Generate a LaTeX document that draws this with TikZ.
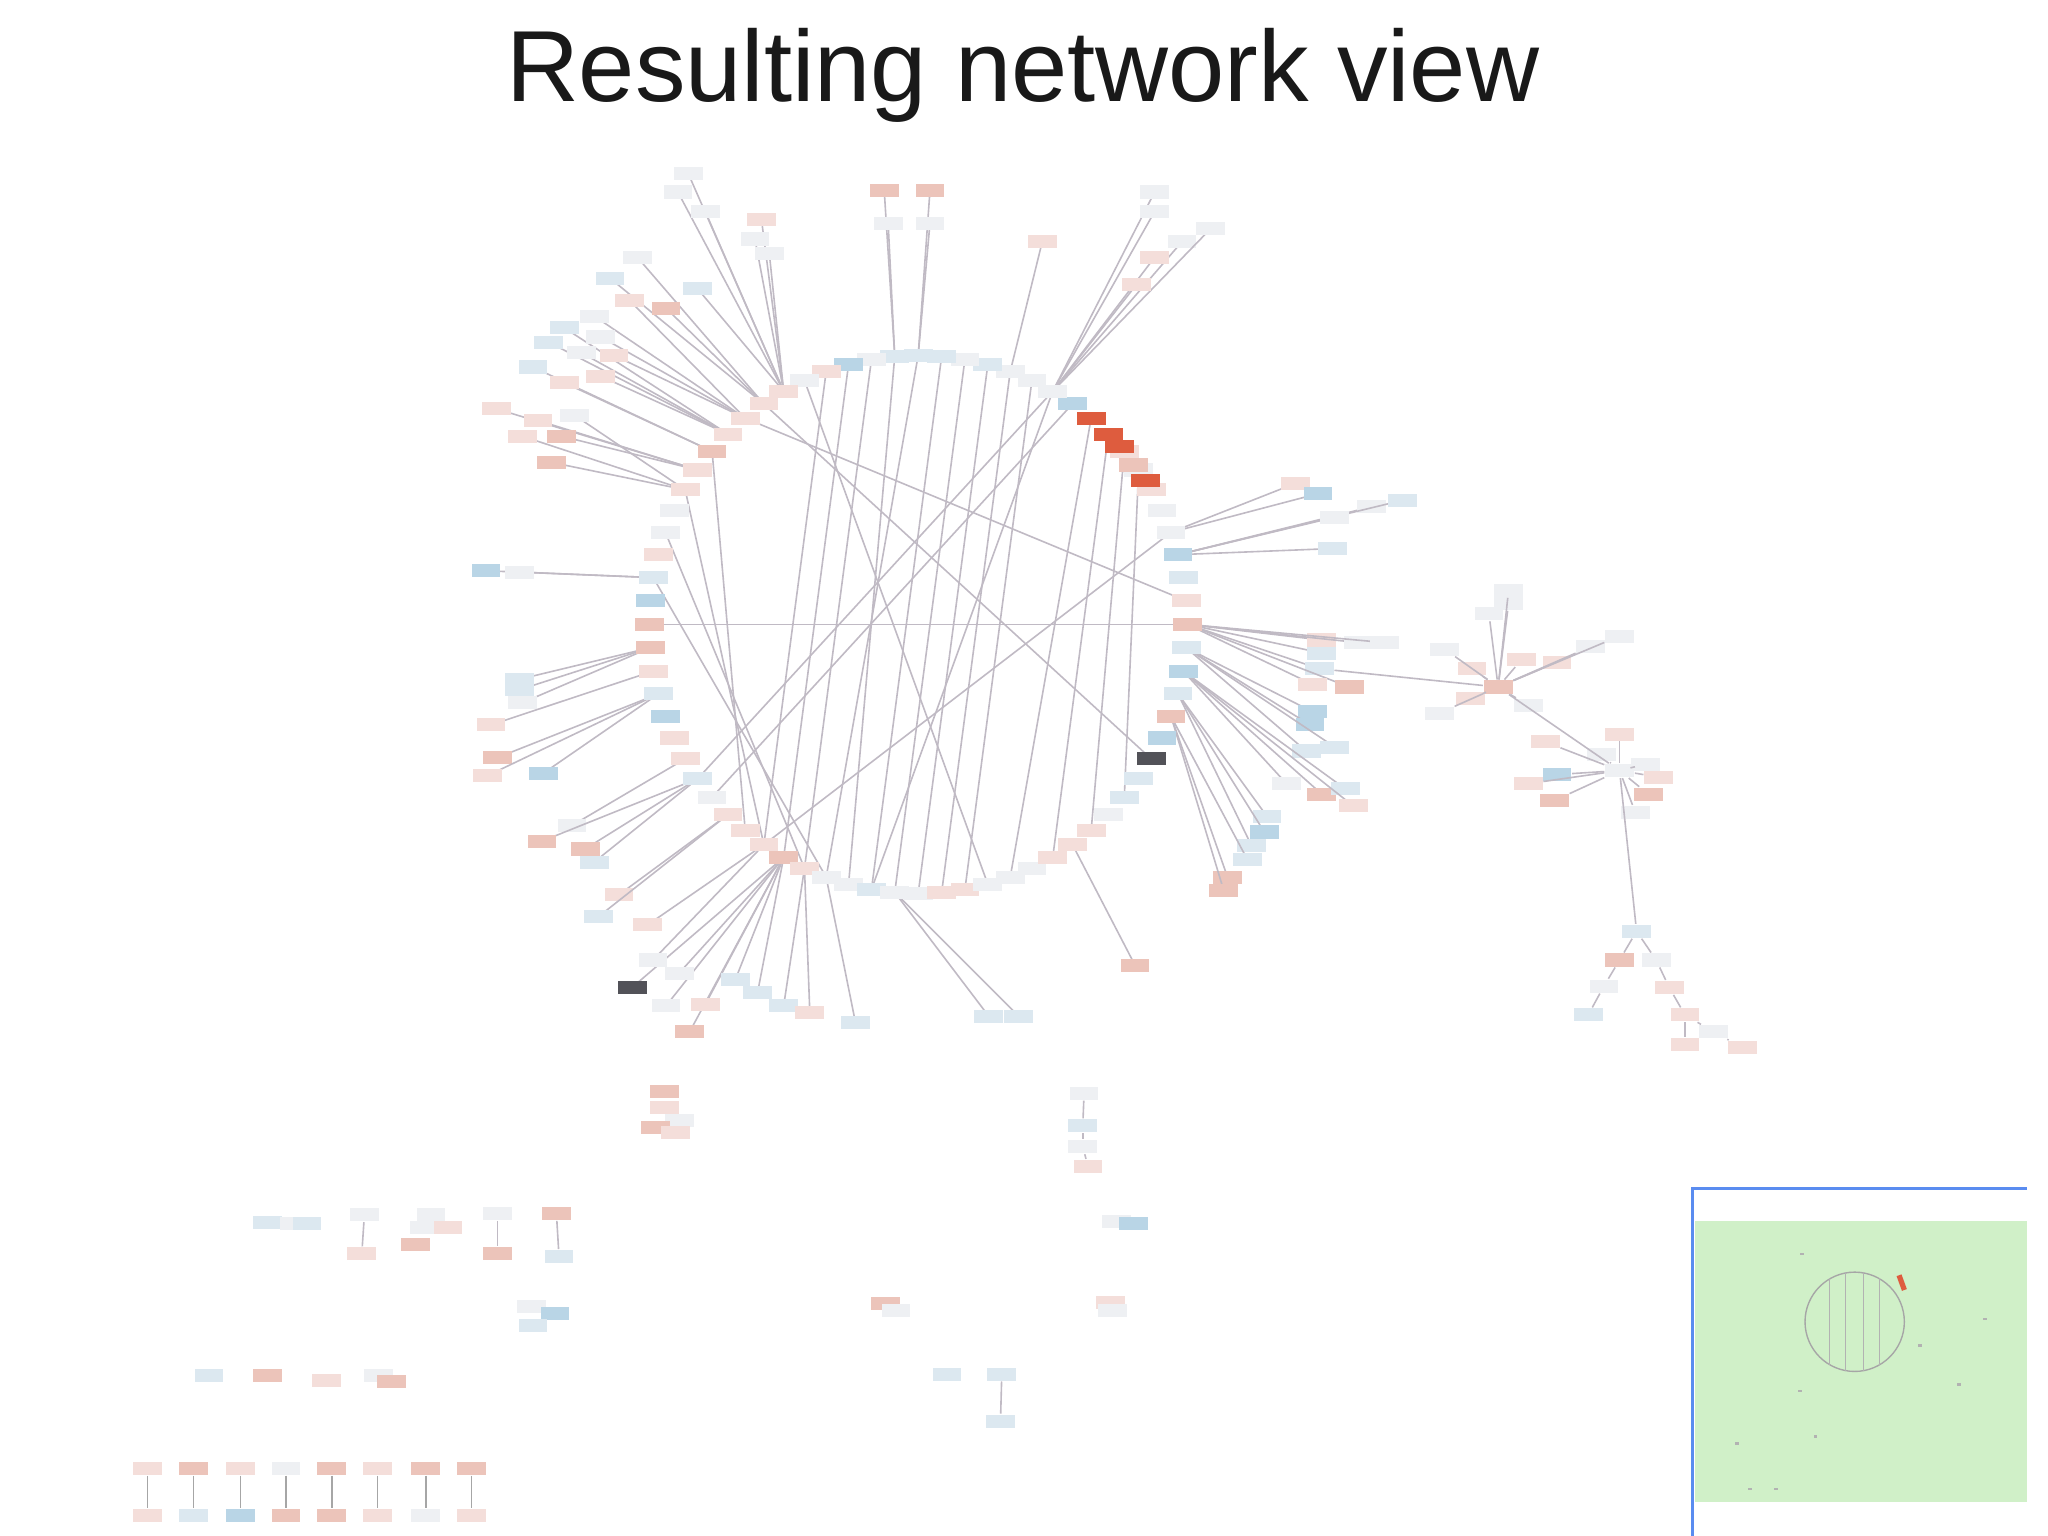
\documentclass[tikz,border=0pt]{standalone}
\usepackage{fontspec}
\setmainfont{Liberation Sans}
\usetikzlibrary{shapes.geometric}
\definecolor{cP}{RGB}{236,196,186}
\definecolor{cp}{RGB}{244,222,218}
\definecolor{cB}{RGB}{185,213,230}
\definecolor{cb}{RGB}{220,232,240}
\definecolor{cw}{RGB}{238,240,243}
\definecolor{cR}{RGB}{222,92,62}
\definecolor{cK}{RGB}{82,82,88}
\definecolor{eg}{RGB}{192,186,196}
\tikzset{
 nd/.style={fill=c#1,draw=none,inner sep=0pt,minimum width=0.22cm,minimum height=0.1cm},
 nde/.style={fill=c#1,draw=none,ellipse,inner sep=0pt,minimum width=0.22cm,minimum height=0.11cm},
 edge/.style={draw=eg,line width=0.35pt},
}
\begin{document}
\begin{tikzpicture}[x=0.01cm,y=-0.01cm]
\useasboundingbox (0,0) rectangle (1568,1176);
\node[font=\fontsize{22}{26}\selectfont,text=black!90] (title) at (783,58) {Resulting network view};
\foreach \a/\c in {0/P,5/p,10/b,15/B,20/w,25/w,30/p,35/w,40/p,45/R,50/R,55/B,60/w,65/w,70/w,75/b,80/w,85/b,90/b,95/b,100/w,105/B,110/p,115/w,120/p,125/p,130/p,135/p,140/P,145/p,150/p,155/w,160/w,165/p,170/b,175/B,180/P,185/P,190/p,195/b,200/B,205/p,210/p,215/b,220/w,225/p,230/p,235/p,240/P,245/p,250/w,255/w,260/b,265/w,270/w,275/p,280/p,285/w,290/w,295/w,300/p,305/p,310/p,315/w,320/b,325/b,330/K,335/B,340/P,345/b,350/B,355/b}
  \coordinate (c\a) at ({703+206*cos(\a)},{478-206*sin(\a)});
\foreach \a/\b in {95/255,90/250,100/245,85/260,80/265,75/270,105/240,110/235,70/275,65/280,60/215,55/220,50/290,45/300,40/310,35/320,130/5,125/330,150/235,160/245,170/250,140/230,0/180,20/235,115/285,60/260}
  \draw[edge] (c\a) -- (c\b);
\foreach \x/\y/\c/\s/\t [count=\i] in {
527/133/w/e/120,519/147/w/e/120,540/162/w/e/120,583/168/p/r/120,578/183/w/e/120,589/194/w/e/120,488/197/w/r/125,467/213/b/r/125,534/221/b/r/120,510/236/P/r/125,482/230/p/r/130,455/242/w/r/130,432/251/b/r/135,460/258/w/e/130,420/262/b/r/135,445/270/w/r/135,470/272/p/r/130,408/281/b/r/140,432/293/p/r/140,460/288/p/r/135,380/313/p/r/145,412/322/p/r/145,430/334/P/r/145,400/334/p/r/150,422/354/P/r/150,440/318/w/e/150,
677/146/P/r/95,712/146/P/r/90,680/171/w/e/95,712/171/w/e/90,798/185/p/r/70,884/147/w/e/60,884/162/w/e/60,905/185/w/e/60,927/175/w/e/60,884/197/p/r/60,870/218/p/r/60,
992/370/p/r/20,1009/378/B/r/20,1050/388/w/e/15,1074/383/b/r/15,1022/396/w/e/15,1020/420/b/r/15,
1012/490/p/r/0,1012/500/b/r/0,1040/492/w/e/0,1060/492/w/e/0,1010/512/b/r/0,1033/526/P/r/0,1005/524/p/r/0,1005/545/B/r/355,1003/555/B/r/355,1022/572/b/r/355,1000/575/b/r/355,1012/608/P/r/350,1030/604/b/r/350,1036/617/p/r/350,985/600/w/e/350,970/625/b/r/345,968/637/B/r/345,958/647/b/r/345,955/658/b/r/340,940/672/P/r/340,937/682/P/r/340,
372/437/B/r/170,398/438/w/r/170,398/520/b/r/185,398/528/b/r/185,400/538/w/e/185,376/555/p/r/190,381/580/P/r/195,416/592/B/r/195,373/594/p/r/195,438/632/w/r/210,415/644/P/r/215,448/650/P/r/215,455/660/b/r/215,474/685/p/r/225,458/702/b/r/225,
496/708/p/e/235,484/756/K/r/240,510/770/w/e/240,528/790/P/r/240,540/769/p/r/240,563/750/b/r/240,580/760/b/r/240,600/770/b/r/245,620/775/p/r/245,655/783/b/r/250,500/735/w/e/235,520/745/w/e/240,
757/778/b/r/265,780/778/b/r/265,869/739/P/r/305}
{
  \draw[edge] (\x,\y) -- (c\t);
  \ifx\s e \node[nde=\c] (o\i) at (\x,\y) {};\else \node[nd=\c] (o\i) at (\x,\y) {};\fi
}
\foreach \a/\c in {0/P,5/p,10/b,15/B,20/w,25/w,30/p,35/w,40/p,45/R,50/R,55/B,60/w,65/w,70/w,75/b,80/w,85/b,90/b,95/b,100/w,105/B,110/p,115/w,120/p,125/p,130/p,135/p,140/P,145/p,150/p,155/w,160/w,165/p,170/b,175/B,180/P,185/P,190/p,195/b,200/B,205/p,210/p,215/b,220/w,225/p,230/p,235/p,240/P,245/p,250/w,255/w,260/b,265/w,270/w,275/p,280/p,285/w,290/w,295/w,300/p,305/p,310/p,315/w,320/b,325/b,330/K,335/B,340/P,345/b,350/B,355/b}
  \node[nd=\c] (n\a) at (c\a) {};
\node[nd=R] (r1) at (857,342) {};
\node[nd=P] (r2) at (868,356) {};
\node[nd=R] (r3) at (877,368) {};
\foreach \n/\x/\y/\c/\s in {f1/1147/526/P/r,f2/1155/452/w/e,f3/1155/462/w/e,f4/1140/470/w/e,f5/1106/497/w/e,f6/1127/512/p/r,f7/1165/505/p/r,f8/1192/507/p/r,f9/1218/495/w/r,f10/1240/487/w/r,f11/1126/535/p/r,f12/1102/546/w/e,f13/1170/540/w/e,
g0/1240/590/w/e,g1/1240/562/p/r,g2/1226/578/w/e,g3/1183/568/p/r,g4/1192/593/B/e,g5/1190/613/P/r,g6/1170/600/p/r,g7/1260/585/w/e,g8/1270/595/p/r,g9/1252/622/w/e,g10/1262/608/P/r,
h1/1253/713/b/r,h2/1240/735/P/r,h3/1268/735/w/e,h4/1228/755/w/e,h5/1278/756/p/r,h6/1216/777/b/r,h7/1290/777/p/r,h8/1290/800/p/r,h9/1312/790/w/e,h10/1334/802/p/r}
{ \ifx\s e \node[nde=\c] (\n) at (\x,\y) {};\else \node[nd=\c] (\n) at (\x,\y) {};\fi }
\draw[edge] (f1) -- (o48);
\foreach \n in {f2,f3,f4,f5,f6,f7,f8,f9,f10,f11,f12,f13,g0} \draw[edge] (f1) -- (\n);
\foreach \n in {g1,g2,g3,g4,g5,g6,g7,g8,g9,g10} \draw[edge] (g0) -- (\n);
\draw[edge] (g0) -- (h1);
\draw[edge] (h1) -- (h2); \draw[edge] (h1) -- (h3); \draw[edge] (h2) -- (h4);
\draw[edge] (h4) -- (h6); \draw[edge] (h3) -- (h5); \draw[edge] (h5) -- (h7);
\draw[edge] (h7) -- (h8); \draw[edge] (h7) -- (h9); \draw[edge] (h9) -- (h10);
\foreach \x/\y/\c/\s [count=\i] in {509/836/P/r,509/848/p/r,520/858/w/e,502/863/P/r,517/867/p/e,
830/837/w/e,829/862/b/r,829/878/w/r,833/893/p/r,
205/936/b/r,225/937/w/r,235/937/b/r,279/930/w/e,277/960/p/r,330/930/w/e,325/940/w/e,343/940/p/r,318/953/P/r,381/929/w/e,381/960/P/r,426/929/P/r,428/962/b/r,
407/1000/w/e,425/1006/B/r,408/1015/b/r,855/935/w/e,868/937/B/r,678/998/P/r,686/1003/w/e,850/997/p/r,852/1003/w/e,
160/1053/b/r,205/1053/P/r,250/1057/p/e,290/1053/w/e,300/1058/P/r,725/1052/b/r,767/1052/b/r,766/1088/b/r}
{ \ifx\s e \node[nde=\c] (b\i) at (\x,\y) {};\else \node[nd=\c] (b\i) at (\x,\y) {};\fi }
\foreach \a/\b in {6/7,7/8,8/9,13/14,19/20,21/22,38/39}
  \draw[edge] (b\a) -- (b\b);
\foreach \x/\ct/\cb [count=\i] in {113/p/p,148/P/b,184/p/B,219/w/P,254/P/P,289/p/p,326/P/w,361/P/p}
{ \node[nd=\ct] (pt\i) at (\x,1124) {};
  \node[nd=\cb] (pb\i) at (\x,1160) {};
  \draw[edge,draw=gray!70] (pt\i) -- (pb\i); }
\fill[fill={rgb,255:red,208;green,240;blue,200}] (1298,935) rectangle (1552,1150);
\draw[draw={rgb,255:red,90;green,140;blue,240},line width=0.7pt] (1296,1176) -- (1296,910) -- (1552,910);
\node[draw=gray!70,circle,minimum size=0.76cm,inner sep=0pt,line width=0.3pt] (mc) at (1420,1012) {};
\foreach \a in {100,80,60,120} \draw[gray!60,line width=0.2pt] (mc.\a) -- (mc.-\a);
\node[fill=cR,inner sep=0pt,minimum width=0.04cm,minimum height=0.12cm,rotate=20] (mr) at (1456,982) {};
\foreach \x/\y [count=\i] in {1380/960,1470/1030,1378/1065,1520/1010,1500/1060,1330/1105,1360/1140,1390/1100,1340/1140}
  \node[fill=gray!60,inner sep=0pt,minimum width=0.03cm,minimum height=0.02cm] (mm\i) at (\x,\y) {};
\end{tikzpicture}
\end{document}
